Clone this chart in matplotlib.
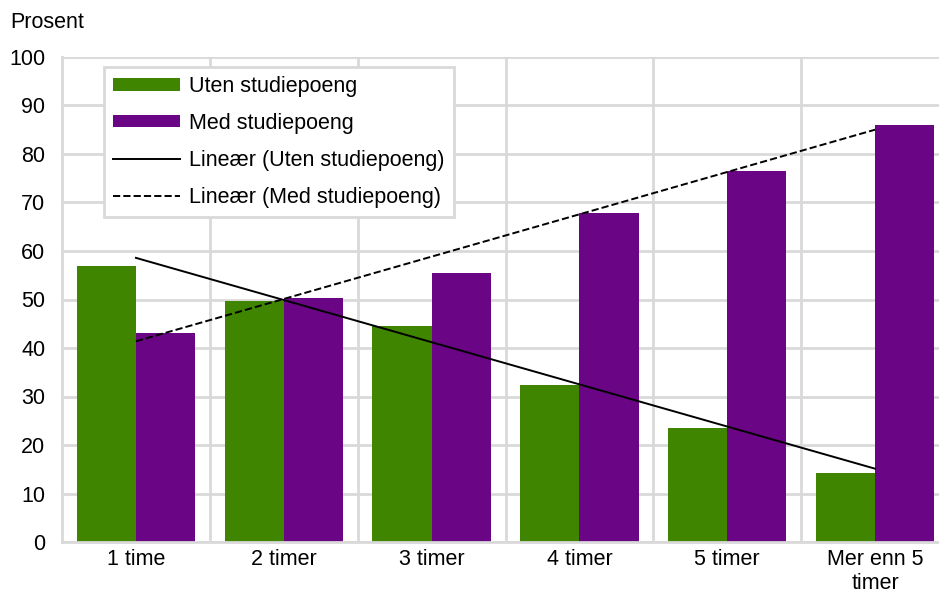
import numpy as np
import matplotlib.pyplot as plt
from matplotlib.patches import Patch
from matplotlib.lines import Line2D

plt.rcParams['font.family'] = ['Liberation Sans', 'DejaVu Sans']

# --- data ---
categories = ['1 time', '2 timer', '3 timer', '4 timer', '5 timer', 'Mer enn 5\ntimer']
uten = [56.9, 49.7, 44.5, 32.3, 23.5, 14.2]
med = [43.1, 50.3, 55.5, 67.8, 76.5, 86.0]
yticks = list(range(0, 101, 10))

green = '#3f8500'
purple = '#6a0585'
grid_col = '#d9d9d9'
fs = 15.5

fig = plt.figure(figsize=(9.39, 5.93), dpi=100)
ax = fig.add_axes([62 / 939, 1 - 542 / 593, 887 / 939, 485 / 593])

x = np.arange(len(categories))
w = 0.4
ax.bar(x - w / 2, uten, width=w, color=green, zorder=2)
ax.bar(x + w / 2, med, width=w, color=purple, zorder=2)

# linear trend lines, fitted on category index
for vals, ls in [(uten, '-'), (med, '--')]:
    k, m = np.polyfit(x, vals, 1)
    ax.plot(x, k * x + m, color='black', ls=ls, lw=1.4, zorder=3)

ax.set_xlim(-0.5, len(categories) - 0.5)
ax.set_ylim(0, 100)
ax.set_yticks(yticks)
ax.set_xticks(x)
ax.set_xticklabels(categories, fontsize=fs, linespacing=1.2)
ax.tick_params(axis='y', labelsize=fs, length=0, pad=12)
ax.tick_params(axis='x', length=0, pad=5)

# grid: horizontal at each tick, vertical between categories
ax.grid(axis='y', color=grid_col, lw=2, zorder=0)
for b in np.arange(0.5, len(categories) - 0.5, 1):
    ax.axvline(b, color=grid_col, lw=2, zorder=0)

for s in ['top', 'right']:
    ax.spines[s].set_visible(False)
ax.spines['left'].set_color(grid_col)
ax.spines['left'].set_linewidth(2)
ax.spines['bottom'].set_color(grid_col)
ax.spines['bottom'].set_linewidth(2)

fig.text(10 / 939, 1 - 22 / 593, 'Prosent', fontsize=fs, va='center', ha='left')

handles = [
    Patch(facecolor=green, label='Uten studiepoeng'),
    Patch(facecolor=purple, label='Med studiepoeng'),
    Line2D([], [], color='black', lw=1.4, label='Lineær (Uten studiepoeng)'),
    Line2D([], [], color='black', lw=1.4, ls='--', label='Lineær (Med studiepoeng)'),
]
leg = ax.legend(handles=handles, loc='upper left', bbox_to_anchor=(42 / 887, 1 - 10 / 485),
                fontsize=fs, frameon=True, fancybox=False, framealpha=1,
                edgecolor=grid_col, handlelength=3.1, handleheight=0.5,
                labelspacing=0.74, borderpad=0.42, borderaxespad=0,
                handletextpad=0.45)
leg.get_frame().set_linewidth(2)
leg.set_zorder(5)

fig.savefig('out.png', dpi=100)
